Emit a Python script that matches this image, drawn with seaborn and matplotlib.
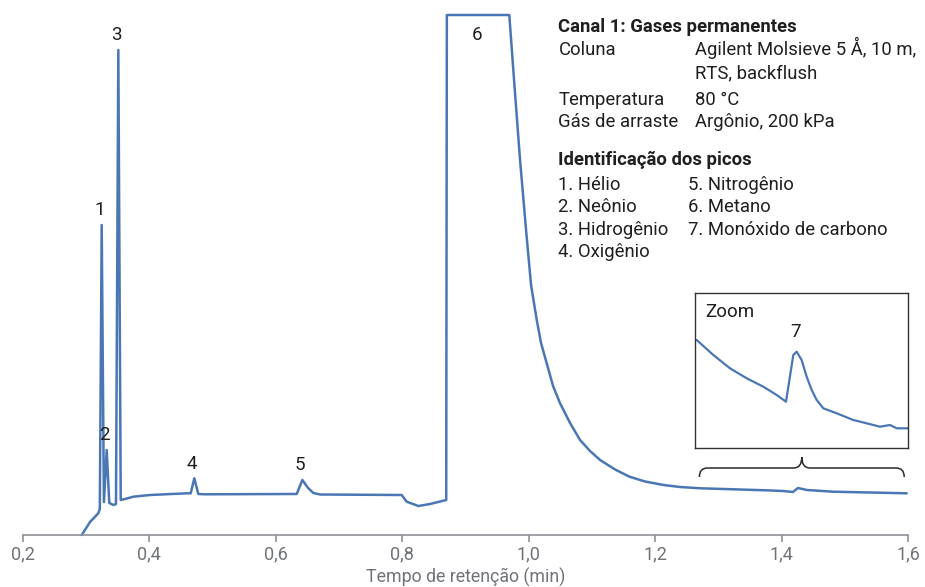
import numpy as np
import pandas as pd
import matplotlib.pyplot as plt
import seaborn as sns
from matplotlib.path import Path
from matplotlib.patches import PathPatch

# ------------------ Data ------------------
# main trace: retention time (min) and detector signal (arbitrary units)
main_time = [0.293, 0.306, 0.3191, 0.3215, 0.3245, 0.3280, 0.3324, 0.3365, 0.343,
             0.3471, 0.3508, 0.3546, 0.3614, 0.3745, 0.401, 0.459, 0.4653, 0.471,
             0.4773, 0.488, 0.6277, 0.633, 0.6419, 0.651, 0.6593, 0.670, 0.799,
             0.807, 0.8254, 0.844, 0.865, 0.8695, 0.8705, 0.9693, 0.9768, 0.9863,
             0.9958, 1.0037, 1.0127, 1.0195, 1.0285, 1.0385, 1.0496, 1.0654, 1.0812,
             1.0970, 1.1129, 1.1366, 1.1593, 1.1840, 1.213, 1.2394, 1.2715, 1.3343,
             1.3800, 1.4024, 1.418, 1.426, 1.440, 1.4815, 1.540, 1.598]
main_signal = [0, 13, 21.7, 26, 310, 33, 85, 32, 30,
               31, 485, 35, 36, 38.3, 40, 41.7, 41.7, 56.7,
               41, 40.7, 41, 41, 55, 47, 42, 40.5, 40,
               33.3, 29, 31, 34.3, 35, 520, 520, 455, 375,
               305, 250, 215, 192, 171.7, 149, 131.7, 112, 95,
               84, 75, 65.5, 58.3, 53.5, 50, 48, 46.7, 45.5,
               44.6, 44, 43, 47, 45, 43.3, 42.5, 41.7]

# zoomed region around peak 7
zoom_time = [1.2726, 1.2984, 1.3242, 1.3501, 1.3758, 1.3966, 1.4110, 1.4223, 1.4275,
             1.4352, 1.4430, 1.4508, 1.4585, 1.4688, 1.4895, 1.5153, 1.5360, 1.5566,
             1.5721, 1.5825, 1.5995]
zoom_signal = [107.5, 92.5, 79.2, 69.2, 60.8, 52.5, 45.8, 92.5, 95.8,
               87.5, 70.8, 57.5, 47.5, 39.2, 34.2, 27.5, 24.2, 20.8,
               22.5, 19.2, 19.2]

peak_ids = ['1', '2', '3', '4', '5']
peak_times = [0.3245, 0.3324, 0.3508, 0.471, 0.6419]
peak_heights = [310, 85, 485, 56.7, 55]

xticks = [0.2, 0.4, 0.6, 0.8, 1.0, 1.2, 1.4, 1.6]
xtick_labels = ['0,2', '0,4', '0,6', '0,8', '1,0', '1,2', '1,4', '1,6']

info_rows = [('Coluna', 'Agilent Molsieve 5 Å, 10 m,\nRTS, backflush'),
             ('Temperatura', '80 °C'),
             ('Gás de arraste', 'Argônio, 200 kPa')]
peak_names_left = ['1. Hélio', '2. Neônio', '3. Hidrogênio', '4. Oxigênio']
peak_names_right = ['5. Nitrogênio', '6. Metano', '7. Monóxido de carbono']

df = pd.DataFrame({'time': main_time, 'signal': main_signal})
df_zoom = pd.DataFrame({'time': zoom_time, 'signal': zoom_signal})

# ------------------ Style ------------------
sns.set_theme(style='white')
plt.rcParams['font.family'] = ['Roboto', 'DejaVu Sans']

line_color = '#4a77b4'
axis_gray = '#8c9096'
label_gray = '#6f7378'
text_color = '#1f1f1f'

W, H = 925, 587
fig = plt.figure(figsize=(W / 100, H / 100), dpi=100)
ax = fig.add_axes([23 / W, (H - 535) / H, 885 / W, 520 / H])

sns.lineplot(data=df, x='time', y='signal', ax=ax, estimator=None, sort=False,
             color=line_color, linewidth=1.8)
for ln in ax.lines:
    ln.set_clip_on(False)

ax.set_xlim(0.2, 1.6)
ax.set_ylim(0, 520)
ax.set_yticks([])
ax.set_ylabel('')
ax.set_xticks(xticks)
ax.set_xticklabels(xtick_labels)
for side in ['top', 'right', 'left']:
    ax.spines[side].set_visible(False)
ax.spines['bottom'].set_color(axis_gray)
ax.spines['bottom'].set_linewidth(1.2)
ax.tick_params(axis='x', direction='out', length=5, width=1.2, color=axis_gray,
               labelcolor=label_gray, labelsize=13, pad=2.5, bottom=True)
ax.set_xlabel('')
fig.text(465.5 / W, 1 - 577.5 / H, 'Tempo de retenção (min)', color=label_gray,
         fontsize=12.8, ha='center', va='center')

# peak labels
for pid, pt, ph in zip(peak_ids, peak_times, peak_heights):
    ax.annotate(pid, (pt, ph), xytext=(-1.5, 10.5), textcoords='offset points',
                ha='center', va='center', fontsize=13.5, color=text_color)
ax.annotate('6', (0.919, 520), xytext=(0, -14.5), textcoords='offset points',
            ha='center', va='center', fontsize=13.5, color=text_color)

# curly brace under the zoom box
b0, b1, bm = 1.27, 1.594, 1.432
y_end, y_h, y_tip = 58, 67, 78
r = 0.0127
verts = [(b0, y_end), (b0, y_h), (b0 + r, y_h),
         (bm - r, y_h), (bm, y_h), (bm, y_tip),
         (bm, y_h), (bm + r, y_h),
         (b1 - r, y_h), (b1, y_h), (b1, y_end)]
codes = [Path.MOVETO, Path.CURVE3, Path.CURVE3,
         Path.LINETO, Path.CURVE3, Path.CURVE3,
         Path.CURVE3, Path.CURVE3,
         Path.LINETO, Path.CURVE3, Path.CURVE3]
ax.add_patch(PathPatch(Path(verts, codes), facecolor='none', edgecolor='#2b2b2b', lw=1.1))

# ------------------ Zoom inset ------------------
axz = fig.add_axes([695 / W, (H - 447.5) / H, 213 / W, 154.2 / H])
sns.lineplot(data=df_zoom, x='time', y='signal', ax=axz, estimator=None, sort=False,
             color=line_color, linewidth=1.6)
axz.set_xlim(1.27, 1.60)
axz.set_ylim(0, 154.2)
axz.set_xticks([])
axz.set_yticks([])
axz.set_xlabel('')
axz.set_ylabel('')
axz.set_facecolor('white')
for s in axz.spines.values():
    s.set_visible(True)
    s.set_color('#333333')
    s.set_linewidth(1.0)
axz.text(0.047, 0.88, 'Zoom', transform=axz.transAxes, ha='left', va='center',
         fontsize=13.5, color=text_color)
axz.annotate('7', (1.4275, 95.8), xytext=(-1, 14.5), textcoords='offset points',
             ha='center', va='center', fontsize=13.5, color=text_color)

# ------------------ Method text block ------------------
x1, x2, x2b = 558.5 / W, 695 / W, 688.5 / W


def fy(py):
    return 1 - py / H


fs = 13.3
fig.text(x1, fy(32), 'Canal 1: Gases permanentes', fontsize=fs, weight='bold',
         color=text_color, va='baseline')
row_y = [55, 105, 127]
for (k, v), py in zip(info_rows, row_y):
    fig.text(x1, fy(py), k, fontsize=fs, color=text_color, va='baseline')
    lines = v.split('\n')
    for i, t in enumerate(lines):
        fig.text(x2, fy(py + 23 * i), t, fontsize=fs, color=text_color, va='baseline')

fig.text(x1, fy(165), 'Identificação dos picos', fontsize=fs, weight='bold',
         color=text_color, va='baseline')
for i, name in enumerate(peak_names_left):
    fig.text(x1, fy(190 + 22.3 * i), name, fontsize=fs, color=text_color, va='baseline')
for i, name in enumerate(peak_names_right):
    fig.text(x2b, fy(190 + 22.3 * i), name, fontsize=fs, color=text_color, va='baseline')

fig.savefig('out.png', dpi=100)
